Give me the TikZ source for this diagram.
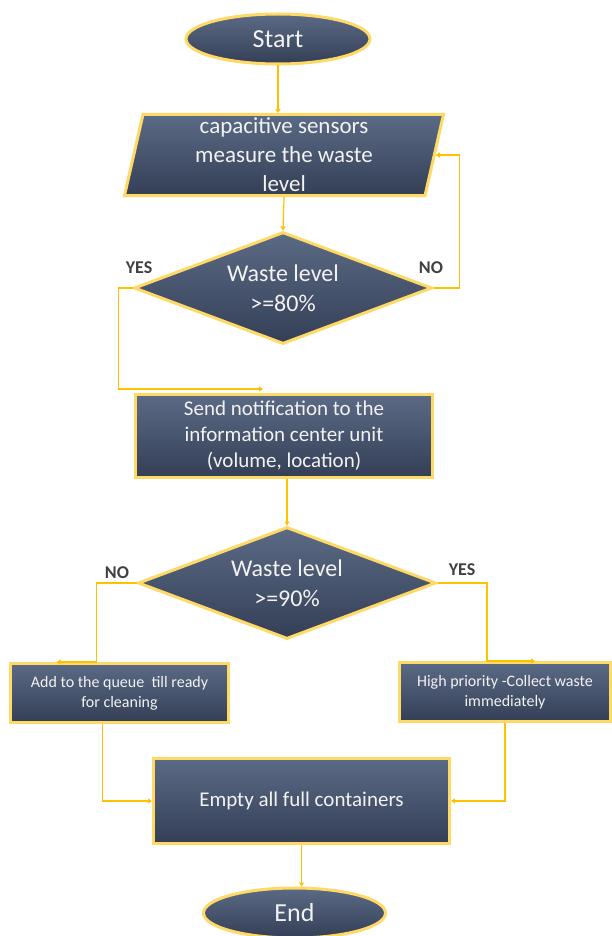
\documentclass[tikz,border=0pt]{standalone}
\usepackage{fontspec}
\setmainfont{Carlito}
\usetikzlibrary{shapes.geometric, arrows.meta}
\definecolor{wLine}{HTML}{FFC000}
\definecolor{wEdge}{HTML}{FFD965}
\definecolor{wTop}{HTML}{5B6A85}
\definecolor{wBot}{HTML}{343F56}
\definecolor{wText}{HTML}{F2F2F2}
\definecolor{wLabel}{HTML}{404040}

\begin{document}
\begin{tikzpicture}[x=1pt, y=-1pt, >={Triangle[width=5pt,length=4pt]},
  blk/.style={draw=wEdge, line width=3pt, top color=wTop, bottom color=wBot, text=wText, align=center, inner sep=0pt},
  term/.style={blk, ellipse, minimum width=184pt, minimum height=50pt, font=\fontsize{26}{30}\selectfont},
  iobox/.style={blk, trapezium, trapezium left angle=76, trapezium right angle=104, trapezium stretches body=true, minimum width=319pt, minimum height=81pt, font=\fontsize{23}{29}\selectfont},
  test/.style={blk, diamond, aspect=2.7, minimum width=298pt, minimum height=112pt, font=\fontsize{24}{30}\selectfont},
  proc/.style={blk, rectangle, font=\fontsize{21}{26}\selectfont},
  small/.style={proc, minimum height=59pt, font=\fontsize{16}{20}\selectfont},
  link/.style={->, wLine, line width=1.2pt},
  tag/.style={font=\fontsize{18}{20}\selectfont\bfseries, text=wLabel}]
  \useasboundingbox (0,0) rectangle (612,936);
  % shapes
  \node[term] (start) at (278,39) {Start};
  \node[iobox] (sense) at (284,155) {capacitive sensors\\measure the waste\\level};
  \node[test] (check1) at (283,288) {Waste level\\>=80\%};
  \node[proc, minimum width=297pt, minimum height=83pt] (notify) at (284,436) {Send notification to the\\information center unit\\(volume, location)};
  \node[test] (check2) at (287,583) {Waste level\\>=90\%};
  \node[small, minimum width=218pt] (queue) at (119.5,693) {Add to the queue~ till ready\\for cleaning};
  \node[small, minimum width=211pt] (high) at (505,692) {High priority -Collect waste\\immediately};
  \node[proc, minimum width=296pt, minimum height=85pt] (empty) at (301.5,801) {Empty all full containers};
  \node[term, minimum width=182pt] (finish) at (294.5,913) {End};
  % labels
  \node[tag] (yes1) at (139,268) {YES};
  \node[tag] (no1) at (431,268) {NO};
  \node[tag] (no2) at (117,573) {NO};
  \node[tag] (yes2) at (462,570) {YES};
  % connectors
  \draw[link] (start.south) -- (start.south |- sense.north);
  \draw[link] (sense.south) -- (check1.north);
  \draw[link] (check1.east) -- ++(26,0) |- (sense.east);
  \draw[link] (check1.west) -- ++(-14,0) |- ([xshift=-21pt,yshift=4pt]notify.north);
  \draw[link] (check2.north |- notify.south) -- (check2.north);
  \draw[link] (check2.west) -| ([xshift=-23pt]queue.north) -- ([xshift=-63pt]queue.north);
  \draw[link] (check2.east) -| ([xshift=-18pt]high.north) -- ([xshift=30pt]high.north);
  \draw[link] ([xshift=-17pt]queue.south) |- (empty.west);
  \draw[link] (high.south) |- (empty.east);
  \draw[link] (empty.south) -- (empty.south |- finish.north);
\end{tikzpicture}
\end{document}
